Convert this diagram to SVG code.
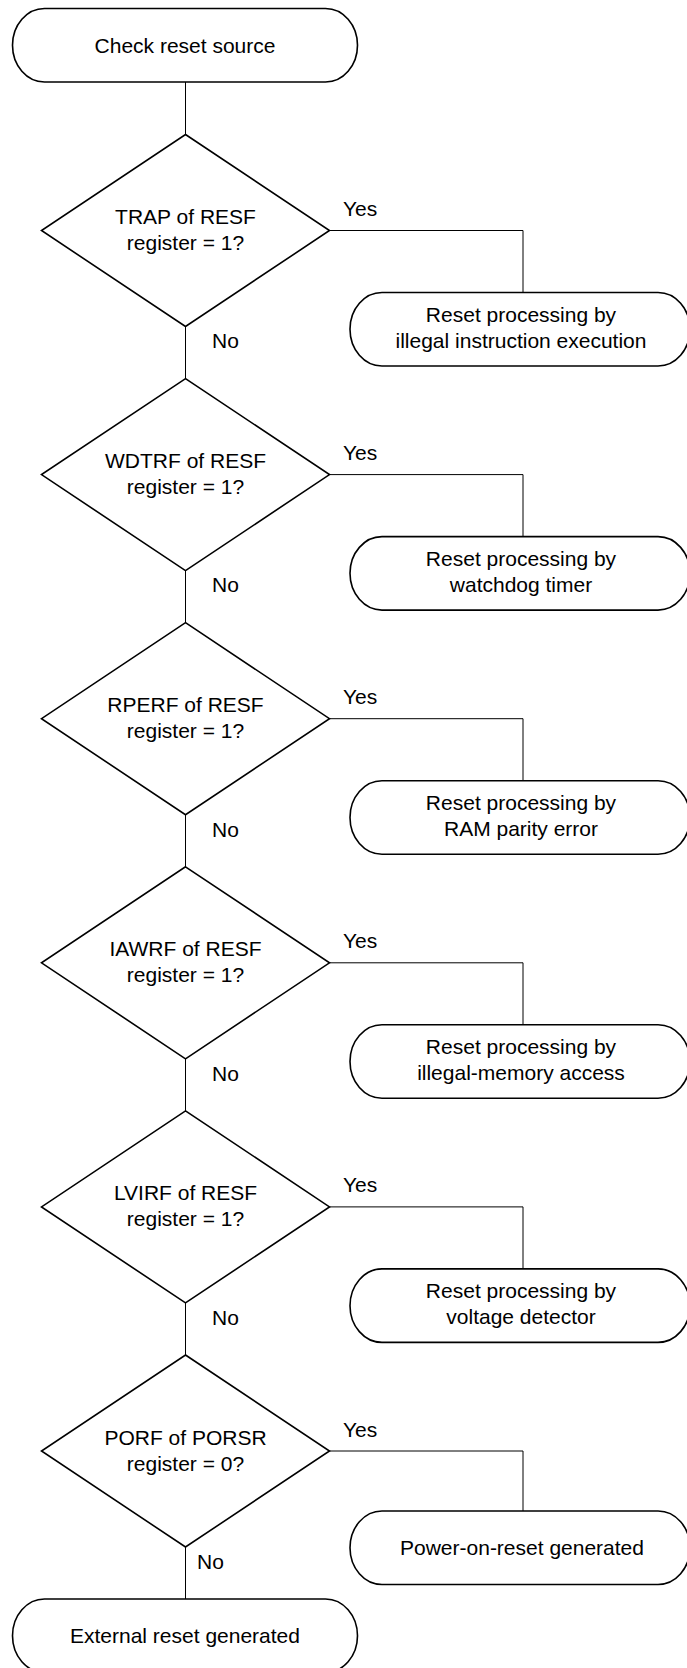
<svg xmlns="http://www.w3.org/2000/svg" width="687" height="1668" viewBox="0 0 687 1668">
  <style>
    .shape { fill: #ffffff; stroke: #000000; stroke-width: 1.6; }
    .link { fill: none; stroke: #000000; stroke-width: 1; }
    text { font-family: "Liberation Sans", Arial, sans-serif; font-size: 21px; fill: #000000; }
    .c { text-anchor: middle; }
  </style>
  <rect width="687" height="1668" fill="#ffffff"/>

  <!-- connectors -->
  <g id="connectors">
    <path class="link" d="M185.5 82 V134.5"/>
    <path class="link" d="M185.5 326.5 V378.6"/>
    <path class="link" d="M185.5 570.6 V622.7"/>
    <path class="link" d="M185.5 814.7 V866.8"/>
    <path class="link" d="M185.5 1058.8 V1110.9"/>
    <path class="link" d="M185.5 1302.9 V1355"/>
    <path class="link" d="M185.5 1547 V1599"/>
    <path class="link" d="M329.5 230.5 H523 V292.5"/>
    <path class="link" d="M329.5 474.6 H523 V536.6"/>
    <path class="link" d="M329.5 718.7 H523 V780.7"/>
    <path class="link" d="M329.5 962.8 H523 V1024.8"/>
    <path class="link" d="M329.5 1206.9 H523 V1268.9"/>
    <path class="link" d="M329.5 1451 H523 V1511"/>
    <text x="343" y="216">Yes</text>
    <text x="343" y="460.1">Yes</text>
    <text x="343" y="704.2">Yes</text>
    <text x="343" y="948.3">Yes</text>
    <text x="343" y="1192.4">Yes</text>
    <text x="343" y="1436.5">Yes</text>
    <text x="212" y="348.3">No</text>
    <text x="212" y="592.4">No</text>
    <text x="212" y="836.5">No</text>
    <text x="212" y="1080.6">No</text>
    <text x="212" y="1324.7">No</text>
    <text x="197" y="1569">No</text>
  </g>

  <!-- start -->
  <g id="start">
    <rect class="shape" x="12.5" y="8.5" width="345" height="73.5" rx="32" ry="36.75"/>
    <text class="c" x="185" y="52.5">Check reset source</text>
  </g>

  <!-- decisions -->
  <g id="check-trap" transform="translate(0,230.5)">
    <polygon class="shape" points="185.5,-96 329.5,0 185.5,96 41.5,0"/>
    <text class="c" x="185.5" y="-6.5">TRAP of RESF</text>
    <text class="c" x="185.5" y="19.5">register = 1?</text>
  </g>
  <g id="check-wdtrf" transform="translate(0,474.6)">
    <polygon class="shape" points="185.5,-96 329.5,0 185.5,96 41.5,0"/>
    <text class="c" x="185.5" y="-6.5">WDTRF of RESF</text>
    <text class="c" x="185.5" y="19.5">register = 1?</text>
  </g>
  <g id="check-rperf" transform="translate(0,718.7)">
    <polygon class="shape" points="185.5,-96 329.5,0 185.5,96 41.5,0"/>
    <text class="c" x="185.5" y="-6.5">RPERF of RESF</text>
    <text class="c" x="185.5" y="19.5">register = 1?</text>
  </g>
  <g id="check-iawrf" transform="translate(0,962.8)">
    <polygon class="shape" points="185.5,-96 329.5,0 185.5,96 41.5,0"/>
    <text class="c" x="185.5" y="-6.5">IAWRF of RESF</text>
    <text class="c" x="185.5" y="19.5">register = 1?</text>
  </g>
  <g id="check-lvirf" transform="translate(0,1206.9)">
    <polygon class="shape" points="185.5,-96 329.5,0 185.5,96 41.5,0"/>
    <text class="c" x="185.5" y="-6.5">LVIRF of RESF</text>
    <text class="c" x="185.5" y="19.5">register = 1?</text>
  </g>
  <g id="check-porf" transform="translate(0,1451)">
    <polygon class="shape" points="185.5,-96 329.5,0 185.5,96 41.5,0"/>
    <text class="c" x="185.5" y="-6.5">PORF of PORSR</text>
    <text class="c" x="185.5" y="19.5">register = 0?</text>
  </g>

  <!-- outcomes -->
  <g id="reset-trap">
    <rect class="shape" x="350" y="292.5" width="340" height="73.5" rx="32" ry="36.75"/>
    <text class="c" x="521" y="322">Reset processing by</text>
    <text class="c" x="521" y="348">illegal instruction execution</text>
  </g>
  <g id="reset-wdt">
    <rect class="shape" x="350" y="536.6" width="340" height="73.5" rx="32" ry="36.75"/>
    <text class="c" x="521" y="566.1">Reset processing by</text>
    <text class="c" x="521" y="592.1">watchdog timer</text>
  </g>
  <g id="reset-rpe">
    <rect class="shape" x="350" y="780.7" width="340" height="73.5" rx="32" ry="36.75"/>
    <text class="c" x="521" y="810.2">Reset processing by</text>
    <text class="c" x="521" y="836.2">RAM parity error</text>
  </g>
  <g id="reset-iaw">
    <rect class="shape" x="350" y="1024.8" width="340" height="73.5" rx="32" ry="36.75"/>
    <text class="c" x="521" y="1054.3">Reset processing by</text>
    <text class="c" x="521" y="1080.3">illegal-memory access</text>
  </g>
  <g id="reset-lvi">
    <rect class="shape" x="350" y="1268.9" width="340" height="73.5" rx="32" ry="36.75"/>
    <text class="c" x="521" y="1298.4">Reset processing by</text>
    <text class="c" x="521" y="1324.4">voltage detector</text>
  </g>
  <g id="reset-por">
    <rect class="shape" x="350" y="1511" width="340" height="73.5" rx="32" ry="36.75"/>
    <text class="c" x="522" y="1554.5">Power-on-reset generated</text>
  </g>
  <g id="reset-external">
    <rect class="shape" x="12.5" y="1599" width="345" height="73.5" rx="32" ry="36.75"/>
    <text class="c" x="185" y="1643">External reset generated</text>
  </g>
</svg>
